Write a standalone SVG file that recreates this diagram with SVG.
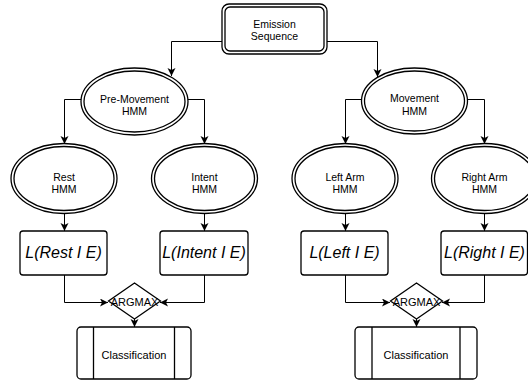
<svg xmlns="http://www.w3.org/2000/svg" width="528" height="383" viewBox="0 0 528 383">
<defs>
<marker id="arr" markerWidth="10" markerHeight="10" refX="8" refY="4" orient="auto" markerUnits="userSpaceOnUse">
<path d="M0,0 L8,4 L0,8 L2,4 z" fill="#000"/>
</marker>
<style>
.ln{fill:none;stroke:#000;stroke-width:1;marker-end:url(#arr)}
.sh{fill:#fff;stroke:#000;stroke-width:1.3}
.t{font-family:"Liberation Sans",Arial,sans-serif;font-size:10.5px;text-anchor:middle;fill:#000}
.L{font-family:"Liberation Sans",Arial,sans-serif;font-size:16px;font-style:italic;text-anchor:middle;fill:#000}
.c{font-family:"Liberation Sans",Arial,sans-serif;font-size:11px;text-anchor:middle;fill:#000}
</style>
</defs>
<rect width="528" height="383" fill="#fff"/>
<g id="connectors">
<path class="ln" d="M222,41.5 H171.5 V76"/>
<path class="ln" d="M327,41.5 H377.5 V77"/>
<path class="ln" d="M81,99.5 H64.5 V144"/>
<path class="ln" d="M188,99.5 H204.5 V144"/>
<path class="ln" d="M362,99.5 H345.5 V144"/>
<path class="ln" d="M467,99.5 H484.5 V144"/>
<path class="ln" d="M64.5,214 V231"/>
<path class="ln" d="M204.5,214 V231"/>
<path class="ln" d="M345.5,214 V231"/>
<path class="ln" d="M484.5,214 V231"/>
<path class="ln" d="M64.5,275 V302.5 H108"/>
<path class="ln" d="M204.5,275 V302.5 H160"/>
<path class="ln" d="M134.5,319 V327"/>
<path class="ln" d="M345.5,275 V302.5 H390"/>
<path class="ln" d="M484.5,275 V302.5 H442"/>
<path class="ln" d="M416.5,319 V327"/>
</g>
<g id="emission">
<rect class="sh" x="222" y="4" width="105" height="50" rx="7"/>
<rect class="sh" x="225" y="7" width="99" height="44" rx="5"/>
<text class="t" x="274.5" y="28.3">Emission</text>
<text class="t" x="274.5" y="40">Sequence</text>
</g>
<g id="premovement">
<ellipse class="sh" cx="134.5" cy="101.5" rx="53.5" ry="33.5"/>
<ellipse class="sh" cx="134.5" cy="101.5" rx="50.5" ry="30.5"/>
<text class="t" x="134.5" y="102.5">Pre-Movement</text>
<text class="t" x="134.5" y="114.5">HMM</text>
</g>
<g id="movement">
<ellipse class="sh" cx="414.5" cy="101" rx="53" ry="33"/>
<ellipse class="sh" cx="414.5" cy="101" rx="50" ry="30"/>
<text class="t" x="414.5" y="102.3">Movement</text>
<text class="t" x="414.5" y="115">HMM</text>
</g>
<g id="rest">
<ellipse class="sh" cx="64" cy="178.5" rx="53" ry="35"/>
<ellipse class="sh" cx="64" cy="178.5" rx="50" ry="32"/>
<text class="t" x="64" y="181">Rest</text>
<text class="t" x="64" y="193.3">HMM</text>
</g>
<g id="intent">
<ellipse class="sh" cx="204.5" cy="178.5" rx="53" ry="35"/>
<ellipse class="sh" cx="204.5" cy="178.5" rx="50" ry="32"/>
<text class="t" x="204.5" y="181">Intent</text>
<text class="t" x="204.5" y="193.3">HMM</text>
</g>
<g id="leftarm">
<ellipse class="sh" cx="345" cy="178.5" rx="53" ry="35"/>
<ellipse class="sh" cx="345" cy="178.5" rx="50" ry="32"/>
<text class="t" x="345" y="181">Left Arm</text>
<text class="t" x="345" y="193.3">HMM</text>
</g>
<g id="rightarm">
<ellipse class="sh" cx="484.5" cy="178.5" rx="53" ry="35"/>
<ellipse class="sh" cx="484.5" cy="178.5" rx="50" ry="32"/>
<text class="t" x="484.5" y="181">Right Arm</text>
<text class="t" x="484.5" y="193.3">HMM</text>
</g>
<g id="lrest">
<rect class="sh" x="20" y="231" width="87" height="44" rx="3"/>
<text class="L" x="63.5" y="258">L(Rest I E)</text>
</g>
<g id="lintent">
<rect class="sh" x="160" y="231" width="88" height="44" rx="3"/>
<text class="L" x="204" y="258">L(Intent I E)</text>
</g>
<g id="lleft">
<rect class="sh" x="301" y="231" width="87" height="44" rx="3"/>
<text class="L" x="344.5" y="258">L(Left I E)</text>
</g>
<g id="lright">
<rect class="sh" x="441" y="231" width="86.5" height="44" rx="3"/>
<text class="L" x="484.5" y="258">L(Right I E)</text>
</g>
<g id="argmax1">
<polygon class="sh" points="134.5,283 160.5,301 134.5,319 108.5,301"/>
<text class="c" x="134.5" y="305.5">ARGMAX</text>
</g>
<g id="argmax2">
<polygon class="sh" points="416.5,283 442.5,301 416.5,319 390.5,301"/>
<text class="c" x="416.5" y="305.5">ARGMAX</text>
</g>
<g id="class1">
<rect class="sh" x="77" y="327" width="114" height="52" rx="4"/>
<line class="sh" x1="93.5" y1="327" x2="93.5" y2="379"/>
<line class="sh" x1="174.5" y1="327" x2="174.5" y2="379"/>
<text class="c" x="134" y="359">Classification</text>
</g>
<g id="class2">
<rect class="sh" x="355" y="327" width="122" height="52" rx="4"/>
<line class="sh" x1="372" y1="327" x2="372" y2="379"/>
<line class="sh" x1="460" y1="327" x2="460" y2="379"/>
<text class="c" x="416" y="359">Classification</text>
</g>
</svg>
